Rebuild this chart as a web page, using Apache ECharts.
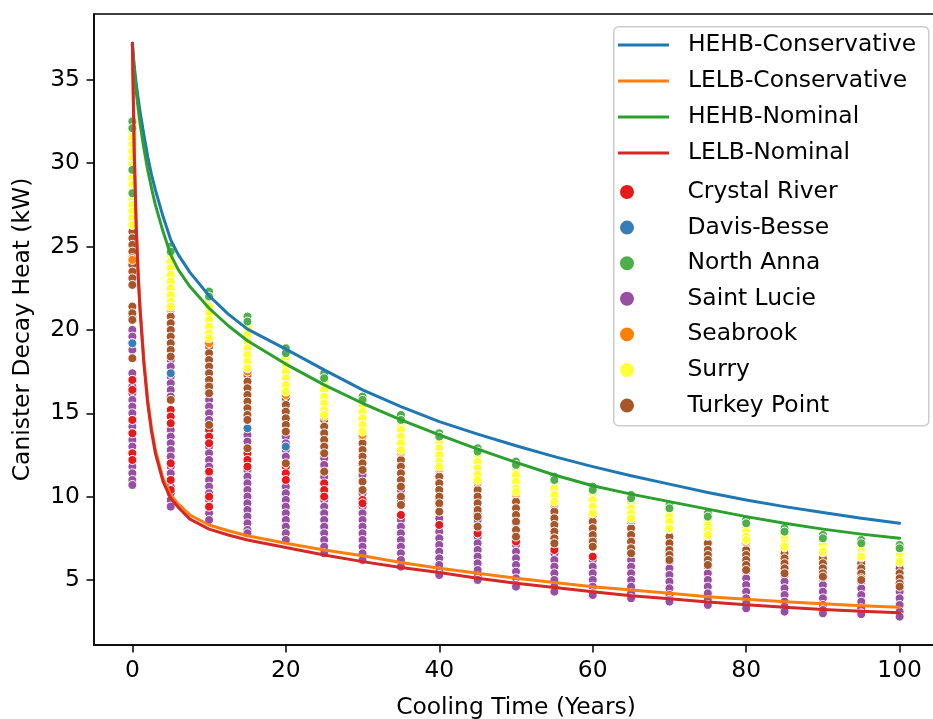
<!DOCTYPE html>
<html><head><meta charset="utf-8">
<script src="https://cdn.jsdelivr.net/npm/echarts@6/dist/echarts.min.js"></script>
<style>html,body{margin:0;padding:0;background:#fff}#c{width:933px;height:719px}</style>
</head><body><div id="c"></div>
<script>
const FONT = 'DejaVu Sans';
const times = [0,5,10,15,20,25,30,35,40,45,50,55,60,65,70,75,80,85,90,95,100];
const xTicks = [0,20,40,60,80,100];
const yTicks = [5,10,15,20,25,30,35];

// curve sample times and values
const lineT = [0,0.25,0.5,0.75,1,1.5,2,2.5,3,4,5,6,7.5,10,12.5,15,20,25,30,35,40,45,50,55,60,65,70,75,80,85,90,95,100];
const hehbConservative = [37.2,35.8,34.8,33.9,33.1,31.7,30.4,29.3,28.4,26.8,25.4,24.5,23.45,22.05,20.95,20.05,18.85,17.6,16.4,15.4,14.5,13.75,13.05,12.4,11.8,11.25,10.75,10.25,9.8,9.4,9.05,8.7,8.4];
const lelbConservative = [37.2,30.7,26.4,23.5,21.4,18.2,15.8,14.1,12.8,11.1,10.1,9.55,8.9,8.3,7.95,7.65,7.2,6.8,6.45,6.05,5.7,5.4,5.1,4.85,4.6,4.4,4.2,4.0,3.85,3.7,3.57,3.46,3.37];
const hehbNominal = [37.2,35.5,34.3,33.3,32.4,30.9,29.6,28.5,27.5,25.9,24.5,23.6,22.6,21.3,20.25,19.35,17.95,16.7,15.6,14.6,13.7,12.85,12.05,11.3,10.65,10.15,9.7,9.25,8.8,8.4,8.05,7.75,7.5];
const lelbNominal = [37.2,30.5,26.2,23.3,21.2,18.0,15.6,13.9,12.6,10.9,9.9,9.35,8.65,8.05,7.7,7.4,6.95,6.5,6.1,5.75,5.45,5.1,4.8,4.55,4.3,4.05,3.88,3.68,3.51,3.37,3.23,3.12,3.03];

// canister heats per cooling time (one inner list per entry of times)
const crystalRiver = [
[21.0,17.0,16.4,14.6,13.8,12.6,12.2],[15.2,14.8,14.4,12.0,11.0,10.4],[14.0,13.6,13.2,11.5,10.0,9.4],
[12.6,12.2,11.8],[11.8,11.4,11.0],[10.8,10.4,10.0],[9.8,9.6],[8.9],[8.3],[7.8],[7.3],[6.8],[6.4],[],[],[],[],[],[],[],[]];
const davisBesse = [[20.8,19.2],[17.4],[16.4],[14.1],[13.0],[],[],[],[],[],[],[],[],[],[],[],[],[],[],[],[]];
const northAnna = [
[32.5,32.1,29.6,28.2],[25.0,24.7],[22.3,22.0],[20.8,20.5],[18.9,18.6],[17.4,17.1],[16.0,15.8],[14.9,14.6],
[13.8,13.6],[12.9,12.7],[12.1,11.9],[11.2,11.0],[10.6,10.4],[10.1,9.9],[9.5,9.3],[9.0,8.8],[8.6,8.4],[8.1,7.9],
[7.7,7.5],[7.4,7.2],[7.1,6.9]];
const saintLucie = [
[20.0,19.6,19.2,18.8,17.4,17.0,16.6,16.2,15.8,15.4,15.0,14.6,14.2,13.8,13.4,13.0,12.6,12.2,11.8,11.4,11.0,10.7],
[18.2,17.8,17.2,16.8,16.4,16.0,14.0,13.6,13.2,12.8,12.4,11.8,11.4,11.0,10.6,10.2,9.8,9.4],
[16.8,15.8,15.4,15.0,14.6,13.0,12.6,12.2,11.8,11.4,11.0,10.6,10.2,9.8,9.4,9.0,8.6],
[13.7,13.3,11.6,11.2,10.8,10.4,10.0,9.6,9.2,8.8,8.4,8.0,7.8],
[13.6,13.2,12.8,12.4,10.6,10.2,9.8,9.4,9.0,8.6,8.2,7.8,7.4],
[12.3,11.9,11.2,9.8,9.4,9.0,8.6,8.2,7.8,7.4,7.0,6.6],
[11.3,10.2,9.4,9.0,8.6,8.2,7.8,7.4,7.0,6.6,6.2],
[10.4,9.8,8.6,8.2,7.8,7.4,7.0,6.6,6.2,5.8],
[9.9,9.5,8.7,8.3,7.9,7.5,7.1,6.7,6.3,5.9,5.5,5.3],
[9.0,8.6,7.6,7.2,6.8,6.4,6.0,5.6,5.2,5.0],
[8.4,8.0,7.1,6.7,6.3,5.9,5.5,5.1,4.7,4.6],
[7.9,7.5,6.6,6.2,5.8,5.4,5.0,4.6,4.3],
[7.5,7.1,6.2,5.8,5.4,5.0,4.6,4.2,4.1],
[6.6,6.2,5.8,5.4,5.0,4.6,4.2,3.9],
[6.1,5.7,5.3,4.9,4.5,4.1,3.8,3.7],
[5.8,5.4,5.0,4.6,4.2,3.8,3.5],
[5.5,5.1,4.7,4.3,3.9,3.6,3.3],
[5.3,4.9,4.5,4.1,3.7,3.4,3.1],
[5.1,4.7,4.3,3.9,3.5,3.2,3.0],
[4.9,4.5,4.1,3.7,3.3,3.0,2.95],
[4.6,4.3,3.9,3.5,3.1,2.8]];
const seabrook = [[24.2],[21.3],[19.2],[17.5],[16.1],[14.8],[13.7],[12.7],[11.7],[10.9],[10.2],[9.6],[9.0],[8.6],[8.05],[7.65],[7.3],[6.95],[6.65],[6.35],[6.05]];
const surry = [
[32.3,31.9,31.5,31.1,30.7,30.3,29.9,29.5,29.1,28.7,28.3,27.9,27.5,27.1,26.7,26.3],
[24.5,24.1,23.7,23.3,22.9,22.5,22.1,21.7,21.4],
[21.8,21.4,21.0,20.6,20.2,19.8,19.5],
[20.1,19.7,19.3,18.9,18.5,18.1,17.7],
[18.3,17.9,17.5,17.1,16.7,16.3],
[16.8,16.4,16.0,15.6,15.2,14.9],
[15.5,15.1,14.7,14.3,13.9],
[14.4,14.0,13.6,13.2,12.8],
[13.3,12.9,12.5,12.1,11.8],
[12.5,12.1,11.7,11.3,11.0],
[11.7,11.3,10.9,10.5,10.3],
[10.9,10.5,10.1,9.7],
[10.2,9.8,9.4,9.0],
[9.6,9.3,9.0,8.7],
[9.1,8.8,8.5,8.1],
[8.6,8.3,8.0,7.7],
[8.2,7.9,7.6,7.4],
[7.8,7.5,7.2,7.0],
[7.4,7.1,6.8,6.7],
[7.1,6.8,6.5,6.4],
[6.8,6.5,6.2,6.1]];
const turkeyPoint = [
[25.9,25.5,25.1,24.7,24.3,23.9,23.5,23.1,22.7,21.4,21.0,20.6,18.3],
[21.2,20.8,20.4,20.0,19.6,19.2,18.8,18.4,15.8],
[19.0,18.6,18.2,17.8,17.4,17.0,16.6,16.2,14.3],
[17.3,16.9,16.5,16.1,15.7,15.3,14.9,14.6,12.9],
[15.9,15.5,15.1,14.7,14.3,13.9,12.0],
[14.6,14.2,13.8,13.4,13.0,12.6,11.5],
[13.6,13.2,12.8,12.4,12.0,11.6,10.9,10.4],
[12.6,12.2,11.8,11.4,11.0,10.6,10.0,9.5],
[11.6,11.2,10.8,10.4,10.0,9.6,9.1],
[10.8,10.4,10.0,9.6,9.2,8.8,8.2],
[10.1,9.7,9.3,8.9,8.5,8.0,7.6],
[9.5,9.1,8.7,8.3,7.9,7.5,7.2],
[8.9,8.5,8.1,7.7,7.3,7.0],
[8.5,8.1,7.7,7.3,6.9,6.6],
[8.0,7.6,7.2,6.8,6.5,6.2],
[7.6,7.2,6.8,6.5,6.2,5.9],
[7.2,6.8,6.5,6.2,5.9,5.6],
[6.9,6.6,6.3,6.0,5.7,5.4],
[6.6,6.3,6.0,5.7,5.4,5.2],
[6.3,6.0,5.7,5.4,5.1,5.0],
[6.0,5.7,5.4,5.1,4.8,4.6]];

const lineNames = ['HEHB-Conservative','LELB-Conservative','HEHB-Nominal','LELB-Nominal'];
const lineColors = ['#1f77b4','#ff7f0e','#2ca02c','#d62728'];
const lineValues = [hehbConservative, lelbConservative, hehbNominal, lelbNominal];
const plantNames = ['Crystal River','Davis-Besse','North Anna','Saint Lucie','Seabrook','Surry','Turkey Point'];
const plantColors = {'Crystal River':'#e41a1c','Davis-Besse':'#377eb8','North Anna':'#4daf4a','Saint Lucie':'#984ea3','Seabrook':'#ff7f00','Surry':'#ffff33','Turkey Point':'#a65628'};
const plantData = {'Crystal River':crystalRiver,'Davis-Besse':davisBesse,'North Anna':northAnna,'Saint Lucie':saintLucie,'Seabrook':seabrook,'Surry':surry,'Turkey Point':turkeyPoint};
const drawOrder = ['Saint Lucie','Crystal River','Davis-Besse','Turkey Point','Seabrook','Surry','North Anna'];

const series = [];
drawOrder.forEach(name => {
  const pts = [];
  plantData[name].forEach((vals, i) => vals.forEach(v => pts.push([times[i], v])));
  series.push({
    name, type: 'scatter', data: pts, symbol: 'circle', symbolSize: 9, z: 2,
    itemStyle: {color: plantColors[name], borderColor: '#ffffff', borderWidth: 1, opacity: 1},
    emphasis: {disabled: true}, animation: false
  });
});
lineNames.forEach((name, k) => {
  series.push({
    name, type: 'line', data: lineT.map((t, i) => [t, lineValues[k][i]]),
    showSymbol: false, symbol: 'none', smooth: false, z: 5,
    lineStyle: {color: lineColors[k], width: 3, join: 'round', cap: 'round'}, itemStyle: {color: lineColors[k]},
    emphasis: {disabled: true}, animation: false
  });
});

const txt = {fontFamily: FONT, fontSize: 23.4, color: '#000'};
const chart = echarts.init(document.getElementById('c'), null, {renderer: 'canvas'});
chart.setOption({
  animation: false,
  backgroundColor: '#ffffff',
  grid: {left: 94, top: 14, width: 844, height: 631, outerBoundsMode: 'none', containLabel: false,
         show: true, borderColor: '#000', borderWidth: 1.5, backgroundColor: 'transparent'},
  xAxis: {
    type: 'value', min: -5, max: 105,
    name: 'Cooling Time (Years)', nameLocation: 'middle', nameGap: 51, nameTextStyle: txt,
    axisLine: {show: true, onZero: false, lineStyle: {color: '#000', width: 1.5}},
    axisTick: {show: true, length: 7.5, lineStyle: {color: '#000', width: 1.5}, customValues: xTicks},
    axisLabel: Object.assign({margin: 14, customValues: xTicks}, txt),
    splitLine: {show: false}
  },
  yAxis: {
    type: 'value', min: 1.1, max: 38.95,
    name: 'Canister Decay Heat (kW)', nameLocation: 'middle', nameGap: 60, nameTextStyle: txt,
    axisLine: {show: true, onZero: false, lineStyle: {color: '#000', width: 1.5}},
    axisTick: {show: true, length: 7.5, lineStyle: {color: '#000', width: 1.5}, customValues: yTicks},
    axisLabel: Object.assign({margin: 14, customValues: yTicks}, txt),
    splitLine: {show: false}
  },
  legend: [
    {data: lineNames, orient: 'vertical', left: 618, top: 32, padding: 0, itemWidth: 51, itemHeight: 3, icon: 'rect', itemGap: 10,
     selectedMode: false, textStyle: Object.assign({lineHeight: 26, padding: [0,0,0,14]}, txt)},
    {data: plantNames, orient: 'vertical', left: 618, top: 179, padding: 0, itemWidth: 51, itemHeight: 16, icon: 'circle', itemGap: 9.6,
     selectedMode: false, textStyle: Object.assign({lineHeight: 26, padding: [0,0,0,30]}, txt)}
  ],
  graphic: [{type: 'rect', left: 613, top: 26, z: 3, shape: {width: 315, height: 399, r: 5},
    style: {fill: 'rgba(255,255,255,0.8)', stroke: '#cccccc', lineWidth: 1.5}}],
  series
});
</script></body></html>
